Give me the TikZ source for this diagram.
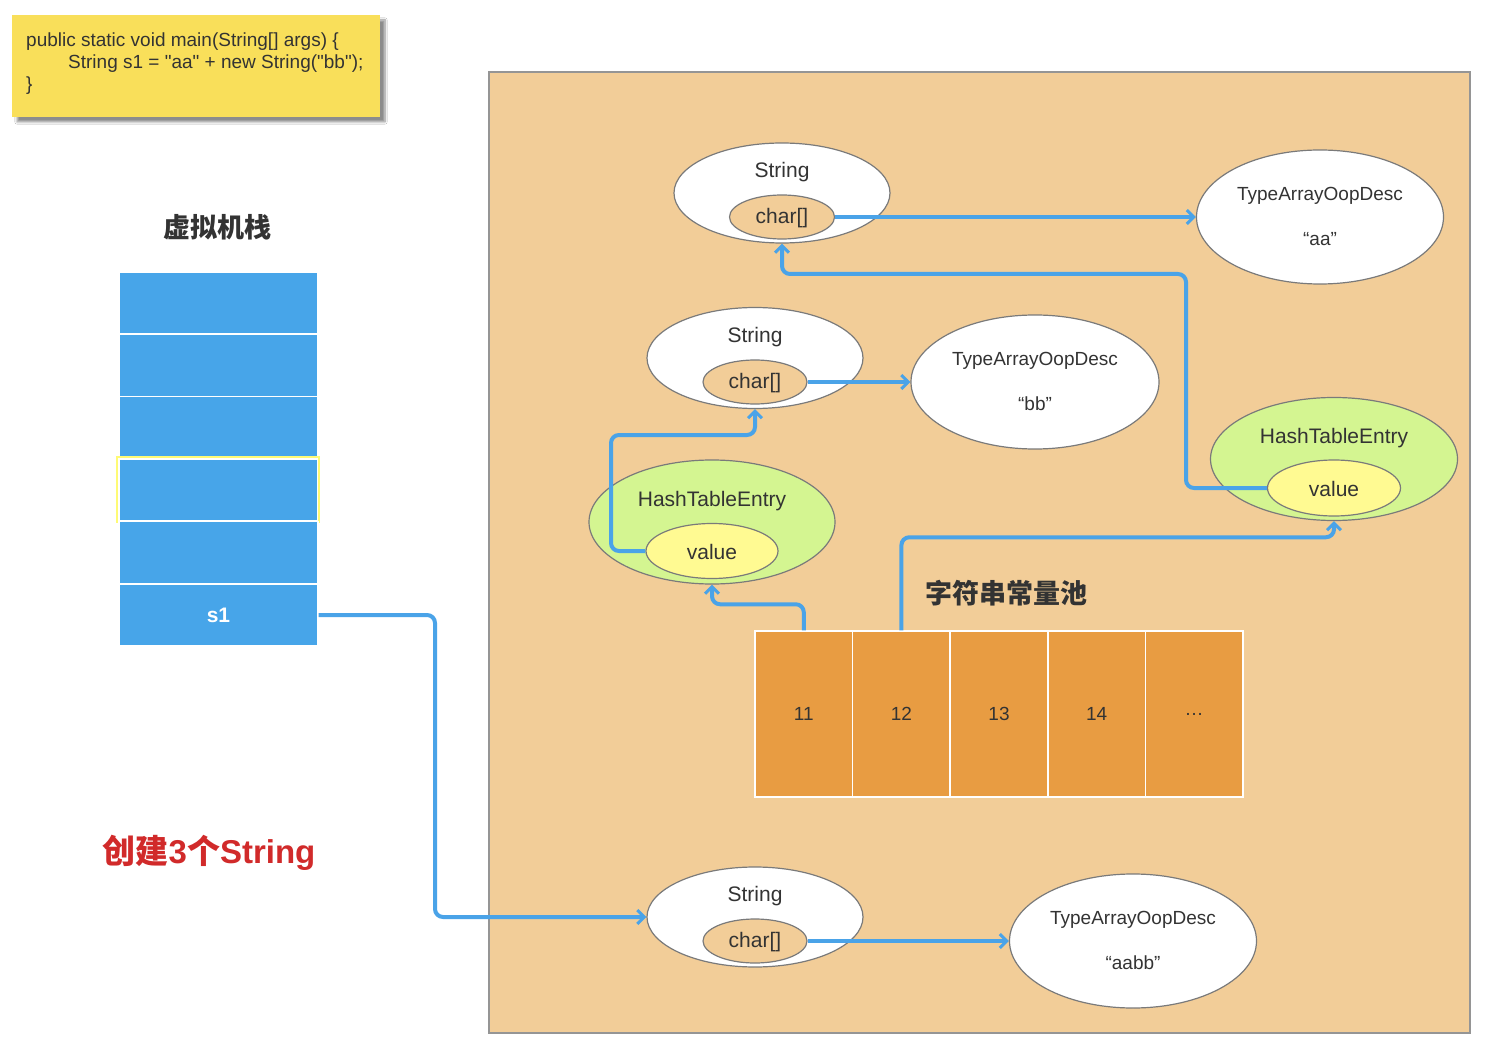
\documentclass[tikz,border=0pt]{standalone}
\usepackage{fontspec}
\setmainfont{Liberation Sans}
\newfontfamily\codefont{Liberation Sans}
\newfontfamily\cjk{Noto Sans CJK SC}
\usetikzlibrary{arrows.meta,shapes.geometric,shadows.blur}
\definecolor{panel}{HTML}{F2CD98}
\definecolor{cellc}{HTML}{E89C42}
\definecolor{stackc}{HTML}{47A5E9}
\definecolor{conn}{HTML}{4AA3E8}
\definecolor{greenc}{HTML}{D4F591}
\definecolor{valc}{HTML}{FFFA92}
\definecolor{notec}{HTML}{F9DF5A}
\definecolor{redt}{HTML}{D12A2A}
\definecolor{txt}{HTML}{333333}
\definecolor{edge}{HTML}{7A7A7A}
\tikzset{
  ell/.style={ellipse, draw=edge, line width=1.2pt, inner sep=0pt},
  outer/.style={ell, fill=white},
  inner/.style={ell, fill=panel},
  hte/.style={ell, fill=greenc},
  valn/.style={ell, fill=valc},
  lbl/.style={text=txt, font=\fontsize{19}{23}\selectfont, inner sep=0pt},
  blbl/.style={text=txt, font=\fontsize{21}{25}\selectfont, inner sep=0pt},
  stk/.style={draw=white, line width=1.2pt, fill=stackc, minimum width=199pt, minimum height=62pt, inner sep=0pt},
  cell/.style={draw=white, line width=1.5pt, fill=cellc, minimum width=97.6pt, minimum height=166pt, inner sep=0pt},
  link/.style={draw=conn, line width=4pt, rounded corners=8pt, -{Straight Barb[length=7pt,width=14pt,line width=3pt]}},
}
\begin{document}
\begin{tikzpicture}[x=1pt,y=-1pt]
\useasboundingbox (0,0) rectangle (1494,1064);
\fill[white] (0,0) rectangle (1494,1064);
% note
\node[fill=notec, minimum width=368pt, minimum height=102pt, inner sep=0pt,
  blur shadow={shadow xshift=5pt, shadow yshift=-5pt, shadow blur steps=8, shadow opacity=45}] (note) at (196,66) {};
\node[text=txt, anchor=north west, align=left, inner sep=0pt, font=\codefont\fontsize{19}{22}\selectfont] (code) at (26,33)
  {public static void main(String[] args) \{\\\hspace*{42pt}String s1 = "aa" + new String("bb");\\\}};
% stack
\node[text=txt, font=\cjk\bfseries\fontsize{27}{30}\selectfont] (stitle) at (217,227) {虚拟机栈};
\node[stk] (k1) at (218.5,303) {};
\node[stk] (k2) at (218.5,365.5) {};
\node[stk] (k3) at (218.5,427.5) {};
\node[stk] (k4) at (218.5,490) {};
\node[draw=valc!80!yellow, line width=1.5pt, minimum width=202pt, minimum height=65pt, inner sep=0pt] (k4h) at (218,489.5) {};
\node[stk] (k5) at (218.5,552.5) {};
\node[stk, text=white, font=\bfseries\fontsize{21}{25}\selectfont] (k6) at (218.5,615) {s1};
\node[text=redt, font=\bfseries\fontsize{33}{38}\selectfont] (make) at (209,853) {{\cjk 创建}3{\cjk 个}String};
% panel
\node[fill=panel, draw=edge!80, line width=1.2pt, minimum width=981pt, minimum height=961pt, inner sep=0pt] (pan) at (979.5,552.5) {};
% String 1
\node[outer, minimum width=216pt, minimum height=100pt] (s1o) at (782,193) {};
\node[blbl] (s1t) at (782,172) {String};
\node[inner, minimum width=105pt, minimum height=44pt] (s1c) at (782,217) {};
\node[blbl] (s1ct) at (782,218) {char[]};
\node[outer, minimum width=247pt, minimum height=134pt] (t1) at (1320,217) {};
\node[lbl] (t1a) at (1320,196) {TypeArrayOopDesc};
\node[lbl] (t1b) at (1320,239) {“aa”};
% String 2
\node[outer, minimum width=216pt, minimum height=101pt] (s2o) at (755,358) {};
\node[blbl] (s2t) at (755,337) {String};
\node[inner, minimum width=104pt, minimum height=44pt] (s2c) at (755,382) {};
\node[blbl] (s2ct) at (755,383) {char[]};
\node[outer, minimum width=248pt, minimum height=134pt] (t2) at (1035,382) {};
\node[lbl] (t2a) at (1035,361) {TypeArrayOopDesc};
\node[lbl] (t2b) at (1035,404) {“bb”};
% HashTableEntries
\node[hte, minimum width=246pt, minimum height=124pt] (hL) at (712,522) {};
\node[blbl] (hLt) at (712,501) {HashTableEntry};
\node[valn, minimum width=132pt, minimum height=55pt] (vL) at (712,551) {};
\node[blbl] (vLt) at (712,552) {value};
\node[hte, minimum width=247pt, minimum height=123pt] (hR) at (1334,459) {};
\node[blbl] (hRt) at (1334,438) {HashTableEntry};
\node[valn, minimum width=133pt, minimum height=56pt] (vR) at (1334,488) {};
\node[blbl] (vRt) at (1334,489) {value};
% pool
\node[text=txt, font=\cjk\bfseries\fontsize{27}{30}\selectfont] (ptitle) at (1006,593) {字符串常量池};
\node[cell] (c11) at (803.8,714) {};
\node[cell] (c12) at (901.4,714) {};
\node[cell] (c13) at (999,714) {};
\node[cell] (c14) at (1096.6,714) {};
\node[cell] (c15) at (1194.2,714) {};
\node[lbl] (l11) at (c11) {11};
\node[lbl] (l12) at (c12) {12};
\node[lbl] (l13) at (c13) {13};
\node[lbl] (l14) at (c14) {14};
\node[lbl] (l15) at (c15) {…};
% String 3
\node[outer, minimum width=216pt, minimum height=100pt] (s3o) at (755,917) {};
\node[blbl] (s3t) at (755,896) {String};
\node[inner, minimum width=104pt, minimum height=44pt] (s3c) at (755,941) {};
\node[blbl] (s3ct) at (755,942) {char[]};
\node[outer, minimum width=247pt, minimum height=134pt] (t3) at (1133,941) {};
\node[lbl] (t3a) at (1133,920) {TypeArrayOopDesc};
\node[lbl] (t3b) at (1133,963) {“aabb”};
% connectors
\draw[link] (s1c.east) -- (t1.west);
\draw[link] (s2c.east) -- (t2.west);
\draw[link] (s3c.east) -- (t3.west);
\draw[link] (vR.west) -| (1186,274) -| (s1o.south);
\draw[link] (vL.west) -| (611,435) -| (s2o.south);
\draw[link] (c11.north) -- ++(0,-26) -| (hL.south);
\draw[link] (c12.north) -- ++(0,-93) -| (hR.south);
\draw[link] (k6.east) -| (435,917) -- (s3o.west);
\end{tikzpicture}
\end{document}
